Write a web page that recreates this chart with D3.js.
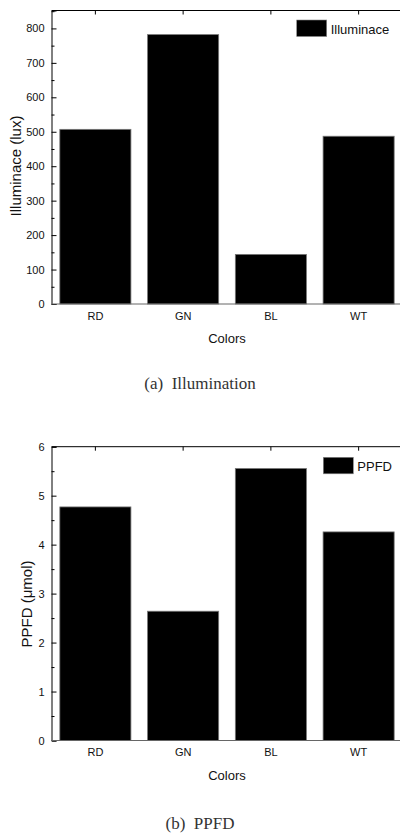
<!DOCTYPE html>
<html><head><meta charset="utf-8">
<script src="https://cdn.jsdelivr.net/npm/d3@7"></script>
<style>body{margin:0;background:#fff}svg{display:block}</style>
</head><body>
<script>
const categories = ["RD","GN","BL","WT"];
const illuminance = [507, 782, 144, 487];
const ppfd = [4.77, 2.64, 5.555, 4.26];
const illumTicks = [0,100,200,300,400,500,600,700,800];
const ppfdTicks = [0,1,2,3,4,5,6];

const svg = d3.select("body").append("svg").attr("width",400).attr("height",834);
const SANS = "'Liberation Sans', Arial, sans-serif";

function panel(cfg){
  const g = svg.append("g");
  const x = d3.scaleBand().domain(categories).range([51.5, 402.5]).paddingInner(0.19).paddingOuter(0.095);
  const y = d3.scaleLinear().domain(cfg.domain).range([cfg.bottom, cfg.top]);
  // bars
  g.selectAll("rect.bar").data(cfg.values).join("rect")
    .attr("x",(d,i)=>x(categories[i])).attr("width",x.bandwidth())
    .attr("y",d=>y(d)).attr("height",d=>y(0)-y(d))
    .attr("fill","#000").attr("stroke","#777").attr("stroke-width",0.8);
  // left axis
  const la = g.append("g").attr("transform","translate(51.5,0)")
    .call(d3.axisLeft(y).tickValues(cfg.ticks).tickSize(-5).tickPadding(8).tickFormat(d3.format("d")));
  la.select(".domain").attr("stroke","#000");
  la.selectAll("text").attr("font-family",SANS).attr("font-size",11).attr("fill","#111").attr("x",-7);
  la.selectAll(".tick line").attr("stroke","#000");
  // minor ticks
  const mi = g.append("g").attr("transform","translate(51.5,0)")
    .call(d3.axisLeft(y).tickValues(cfg.minor).tickSize(-3).tickFormat(""));
  mi.select(".domain").remove();
  mi.selectAll(".tick line").attr("stroke","#000");
  // top axis
  const ta = g.append("g").attr("transform",`translate(0,${cfg.top})`)
    .call(d3.axisTop(x).tickSize(-4).tickFormat(""));
  ta.select(".domain").attr("stroke","#000").attr("d",`M51.5,0H402.5`);
  ta.selectAll(".tick line").attr("stroke","#000");
  // bottom axis
  const ba = g.append("g").attr("transform",`translate(0,${cfg.bottom})`)
    .call(d3.axisBottom(x).tickSize(0).tickPadding(8));
  ba.select(".domain").attr("stroke","#666").attr("d",`M51.5,0H402.5`);
  ba.selectAll("text").attr("font-family",SANS).attr("font-size",11).attr("fill","#111");
  // x title
  g.append("text").attr("x",227).attr("y",cfg.bottom+39).attr("text-anchor","middle")
    .attr("font-family",SANS).attr("font-size",13).attr("fill","#111").text("Colors");
  // y title
  g.append("text").attr("transform",`translate(${cfg.ytx},${cfg.yty}) rotate(-90)`)
    .attr("text-anchor","middle").attr("font-family",SANS).attr("font-size",cfg.ytfs).attr("fill","#111").text(cfg.ytitle);
  // legend
  g.append("rect").attr("x",cfg.legX).attr("y",cfg.legY).attr("width",30).attr("height",16.5)
    .attr("fill","#000").attr("stroke","#888").attr("stroke-width",0.6);
  g.append("text").attr("x",cfg.legX+34).attr("y",cfg.legY+13.5).attr("font-family",SANS)
    .attr("font-size",13).attr("fill","#111").text(cfg.legend);
  // caption
  g.append("text").attr("x",200).attr("y",cfg.capY).attr("text-anchor","middle")
    .attr("font-family","'Liberation Serif', 'Times New Roman', serif").attr("font-size",17)
    .attr("fill","#333").attr("xml:space","preserve").text(cfg.caption);
}

panel({values:illuminance, domain:[0,852], top:10.5, bottom:304, ticks:illumTicks,
  minor:[50,150,250,350,450,550,650,750,850].filter(v=>v<852),
  ytitle:"Illuminace (lux)", ytx:20.5, yty:166, ytfs:15, legend:"Illuminace", legX:296.7, legY:20,
  caption:"(a)  Illumination", capY:389});
panel({values:ppfd, domain:[0,6], top:446.7, bottom:740.5, ticks:ppfdTicks,
  minor:[0.5,1.5,2.5,3.5,4.5,5.5],
  ytitle:"PPFD (\u03bcmol)", ytx:31.5, yty:604, ytfs:15, legend:"PPFD", legX:323.3, legY:457.3,
  caption:"(b)  PPFD", capY:829});
</script>
</body></html>
